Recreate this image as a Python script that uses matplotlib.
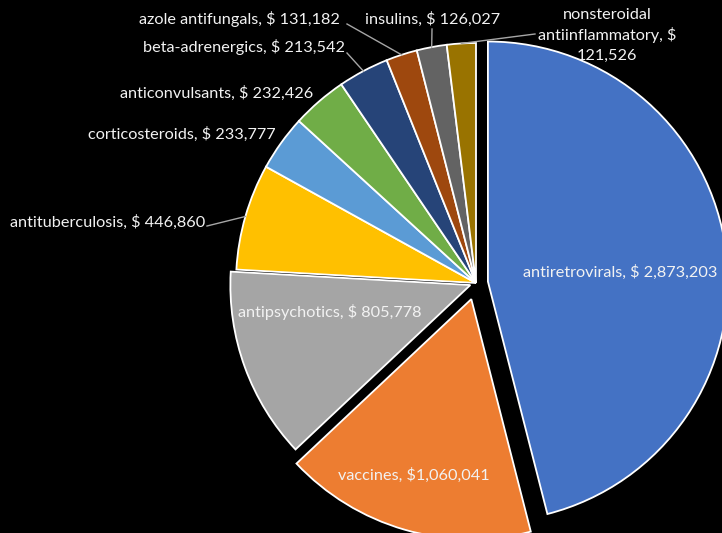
import matplotlib.pyplot as plt
import numpy as np

# drug class spending (USD)
categories = ["antiretrovirals", "vaccines", "antipsychotics", "antituberculosis",
              "corticosteroids", "anticonvulsants", "beta-adrenergics",
              "azole antifungals", "insulins", "nonsteroidal\nantiinflammatory"]
values = [2873203, 1060041, 805778, 446860, 233777, 232426, 213542, 131182, 126027, 121526]
value_labels = ["$ 2,873,203", "$1,060,041", "$ 805,778", "$ 446,860", "$ 233,777",
                "$ 232,426", "$ 213,542", "$ 131,182", "$ 126,027", "$\n121,526"]
colors = ["#4472C4", "#ED7D31", "#A5A5A5", "#FFC000", "#5B9BD5",
          "#70AD47", "#264478", "#9E480E", "#636363", "#997300"]
explode = [0.05, 0.07, 0.025, 0, 0, 0, 0, 0, 0, 0]

W, H = 722, 533
CX, CY, R = 476, 283, 240   # pie centre / radius in pixels


def d(px, py):
    # pixel -> data (unit radius pie)
    return (px - CX) / R, (CY - py) / R


plt.rcParams["font.family"] = ["Lato", "DejaVu Sans"]
fig = plt.figure(figsize=(W / 100, H / 100), dpi=100, facecolor="black")
ax = fig.add_axes([0, 0, 1, 1])
ax.set_facecolor("black")

wedges, _ = ax.pie(values, colors=colors, startangle=90, counterclock=False,
                   explode=explode, frame=True,
                   wedgeprops=dict(edgecolor="white", linewidth=1.3))
x0, y0 = d(0, H)
x1, y1 = d(W, 0)
ax.set_xlim(x0, x1)
ax.set_ylim(y0, y1)
ax.set_aspect("equal")
ax.axis("off")

txt = "#F2F2F2"
fs = 11.7


def label(i, sep=", "):
    return categories[i] + sep + value_labels[i]


def edge_point(i):
    w = wedges[i]
    tm = np.deg2rad((w.theta1 + w.theta2) / 2)
    return w.center[0] + np.cos(tm), w.center[1] + np.sin(tm)


# inside labels
ax.text(*d(620, 272), label(0), color=txt, fontsize=fs, ha="center", va="center")
ax.text(*d(414, 475), label(1), color=txt, fontsize=fs, ha="center", va="center")
ax.text(*d(330, 312), label(2), color=txt, fontsize=fs, ha="center", va="center")

# outside labels: (index, text x, text y, ha, leader end px or None)
outside = [
    (3, 205, 222, "right", (207, 226)),
    (4, 276, 134, "right", None),
    (5, 313, 93, "right", None),
    (6, 345, 47, "right", (347, 53)),
    (7, 340, 19, "right", (347, 24)),
    (8, 433, 19, "center", (432, 29)),
]
for i, tx, ty, ha, end in outside:
    ax.text(*d(tx, ty), label(i), color=txt, fontsize=fs, ha=ha, va="center")
    if end is not None:
        sx, sy = edge_point(i)
        ex, ey = d(*end)
        ax.plot([sx, ex], [sy, ey], color="#A6A6A6", lw=1)

# nonsteroidal label (three lines)
sx, sy = edge_point(9)
ex, ey = d(535, 34)
ax.plot([sx, ex], [sy, ey], color="#A6A6A6", lw=1)
ax.text(*d(607, 35), "nonsteroidal\nantiinflammatory, $\n121,526", color=txt, fontsize=fs,
        ha="center", va="center", linespacing=1.45)

fig.savefig("out.png", dpi=100, facecolor="black")
